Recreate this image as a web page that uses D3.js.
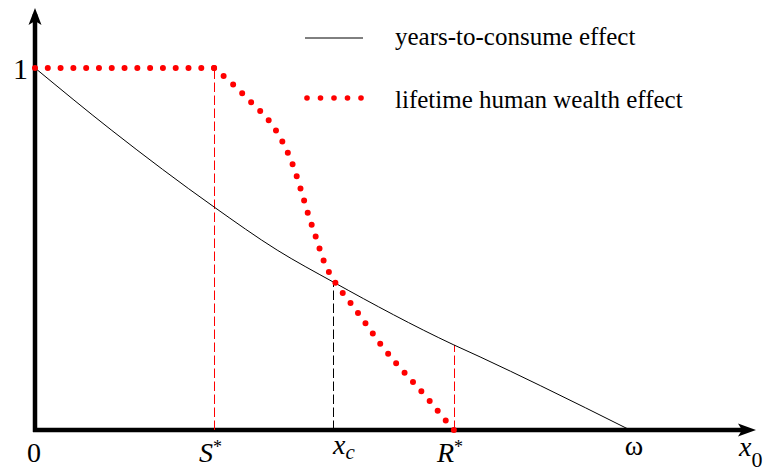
<!DOCTYPE html>
<html>
<head>
<meta charset="utf-8">
<script src="https://cdn.jsdelivr.net/npm/d3@7"></script>
<style>
  body { margin: 0; background: #fff; }
</style>
</head>
<body>
<svg width="772" height="472"></svg>
<script>
// x0 measured as share of omega (omega = 1)
const sStar = 0.301, xC = 0.501, rStar = 0.704, omega = 1

// years-to-consume effect (black solid)
const yearsX = [0, 0.128, 0.301, 0.407, 0.501, 0.704, 0.748, 0.85, 1.0]
const yearsY = [1, 0.829, 0.616, 0.497, 0.409, 0.235, 0.202, 0.122, 0]

// lifetime human wealth effect (red dotted): flat part, then the fall to R*
const flatX = [0, 0.301]
const flatY = [1, 1]
const wealthX = [0.301, 0.336, 0.366, 0.395, 0.417, 0.434, 0.447, 0.459, 0.472, 0.486, 0.504, 0.529, 0.555, 0.578, 0.605, 0.634, 0.662, 0.687, 0.704]
const wealthY = [1, 0.950, 0.901, 0.851, 0.793, 0.729, 0.663, 0.597, 0.533, 0.464, 0.409, 0.354, 0.296, 0.243, 0.188, 0.135, 0.083, 0.033, 0]

const legendLabels = ["years-to-consume effect", "lifetime human wealth effect"]

const FONT = "Liberation Serif"

let svg = d3.select("svg")

let x = d3.scaleLinear().domain([0, omega]).range([35, 630])
let y = d3.scaleLinear().domain([0, 1]).range([430, 68])

const zip = (a, b) => a.map((v, i) => [v, b[i]])

const line = d3.line()
    .x(d => x(d[0]))
    .y(d => y(d[1]))
    .curve(d3.curveMonotoneX)

// axes with arrow heads
svg.append("line")
    .attr("x1", 35).attr("x2", 35)
    .attr("y1", y(0) + 2).attr("y2", 14)
    .attr("stroke", "black").attr("stroke-width", 4.5)
svg.append("line")
    .attr("x1", 33).attr("x2", 745)
    .attr("y1", y(0)).attr("y2", y(0))
    .attr("stroke", "black").attr("stroke-width", 4.5)

svg.append("path")
    .attr("d", "M35,8 L41.5,25 L35,21 L28.5,25 Z")
    .attr("fill", "black")
svg.append("path")
    .attr("d", "M756,430 L738,436.5 L742,430 L738,423.5 Z")
    .attr("fill", "black")

// guide lines (snapped to pixel centres so they stay crisp)
const px = v => Math.round(x(v)) + 0.5

function guide(xv, yTop, colour) {
    svg.append("line")
        .attr("x1", px(xv)).attr("x2", px(xv))
        .attr("y1", y(0)).attr("y2", y(yTop))
        .attr("stroke", colour).attr("stroke-width", 1)
        .attr("stroke-dasharray", "9.5,3.5")
}
guide(sStar, 1, "red")
guide(xC, yearsY[yearsX.indexOf(xC)], "black")
guide(rStar, yearsY[yearsX.indexOf(rStar)], "red")

// curves
svg.append("path")
    .datum(zip(yearsX, yearsY))
    .attr("d", line)
    .attr("fill", "none")
    .attr("stroke", "black")
    .attr("stroke-width", 1)

function dotted(pts) {
    const p = svg.append("path")
        .datum(pts)
        .attr("d", line)
        .attr("fill", "none")
        .attr("stroke", "red")
        .attr("stroke-width", 6)
        .attr("stroke-linecap", "round")
    // space the dots so one lands on each end
    const len = p.node().getTotalLength()
    const gap = len / Math.round(len / 12.5) * 0.9999
    p.attr("stroke-dasharray", "0," + gap)
}
dotted(zip(flatX, flatY))
dotted(zip(wealthX, wealthY))

// axis labels
function label(xp, yp, size, anchor) {
    return svg.append("text")
        .attr("x", xp).attr("y", yp)
        .attr("text-anchor", anchor || "start")
        .attr("font-family", FONT)
        .style("font-size", size + "px")
}

label(20.5, 79, 30, "middle").text("1")
label(34, 462, 28, "middle").text("0")

const sLab = label(199, 462, 28)
sLab.append("tspan").style("font-style", "italic").text("S")
sLab.append("tspan").attr("dy", -9).style("font-size", "18px").text("*")

const xcLab = label(333, 454, 28)
xcLab.append("tspan").style("font-style", "italic").text("x")
xcLab.append("tspan").attr("dy", 5).style("font-size", "21px").style("font-style", "italic").text("c")

const rLab = label(437, 462, 28)
rLab.append("tspan").style("font-style", "italic").text("R")
rLab.append("tspan").attr("dy", -9).style("font-size", "18px").text("*")

label(634, 455, 28, "middle").text("ω")

const x0Lab = label(739, 456, 28)
x0Lab.append("tspan").style("font-style", "italic").text("x")
x0Lab.append("tspan").attr("dy", 11).style("font-size", "22px").text("0")

// legend
const legend = svg.append("g").attr("transform", "translate(305, 38)")

legend.append("line")
    .attr("x1", 0).attr("x2", 58).attr("y1", 0).attr("y2", 0)
    .attr("stroke", "black").attr("stroke-width", 1)

legend.selectAll("circle")
    .data(d3.range(5))
    .enter().append("circle")
    .attr("cx", d => 2 + d * 13.5)
    .attr("cy", 60)
    .attr("r", 2.8)
    .attr("fill", "red")

legend.selectAll("text")
    .data(legendLabels)
    .enter().append("text")
    .attr("x", 90)
    .attr("y", (d, i) => i * 63 + 7)
    .attr("font-family", FONT)
    .style("font-size", "25px")
    .text(d => d)
</script>
</body>
</html>
